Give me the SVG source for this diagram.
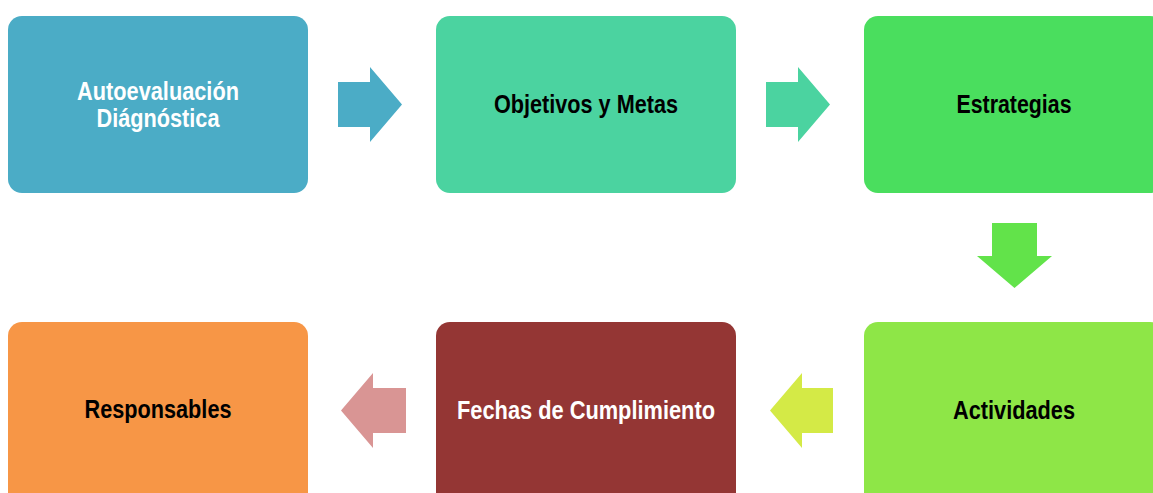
<svg xmlns="http://www.w3.org/2000/svg" width="1153" height="493" viewBox="0 0 1153 493">
<style>
.box{stroke:none}
.t{font-family:"Liberation Sans Narrow","Liberation Sans",Arial,sans-serif;font-weight:bold;font-size:25px;text-anchor:middle}
.w{fill:#ffffff}
.k{fill:#000000}
</style>
<rect width="1153" height="493" fill="#ffffff"/>
<g id="n1"><rect class="box" x="8" y="16" width="300" height="177" rx="14" fill="#4BACC6"/>
<text class="t w" x="158" y="100" textLength="162" lengthAdjust="spacingAndGlyphs">Autoevaluación</text>
<text class="t w" x="158" y="127" textLength="123" lengthAdjust="spacingAndGlyphs">Diágnóstica</text></g>
<g id="n2"><rect class="box" x="436" y="16" width="300" height="177" rx="14" fill="#4BD3A0"/>
<text class="t k" x="586" y="113" textLength="184" lengthAdjust="spacingAndGlyphs">Objetivos y Metas</text></g>
<g id="n3"><rect class="box" x="864" y="16" width="300" height="177" rx="14" fill="#4ADE5E"/>
<text class="t k" x="1014" y="113" textLength="115" lengthAdjust="spacingAndGlyphs">Estrategias</text></g>
<g id="n4"><rect class="box" x="864" y="322" width="300" height="190" rx="14" fill="#8EE647"/>
<text class="t k" x="1014" y="419" textLength="122" lengthAdjust="spacingAndGlyphs">Actividades</text></g>
<g id="n5"><rect class="box" x="436" y="322" width="300" height="190" rx="14" fill="#943634"/>
<text class="t w" x="586" y="419" textLength="258" lengthAdjust="spacingAndGlyphs">Fechas de Cumplimiento</text></g>
<g id="n6"><rect class="box" x="8" y="322" width="300" height="190" rx="14" fill="#F79646"/>
<text class="t k" x="158" y="418" textLength="147" lengthAdjust="spacingAndGlyphs">Responsables</text></g>
<g id="connectors">
<polygon points="338,82 370,82 370,67 402,104.5 370,142 370,127 338,127" fill="#4BACC6"/>
<polygon points="766,82 798,82 798,67 830,104.5 798,142 798,127 766,127" fill="#4BD3A0"/>
<polygon points="992,223 1037,223 1037,256 1052,256 1014.5,288 977,256 992,256" fill="#62E34A"/>
<polygon points="833,388 802,388 802,373 770,410.5 802,448 802,433 833,433" fill="#D4EA46"/>
<polygon points="406,388 373,388 373,373 341,410.5 373,448 373,433 406,433" fill="#D99594"/>
</g>
</svg>
